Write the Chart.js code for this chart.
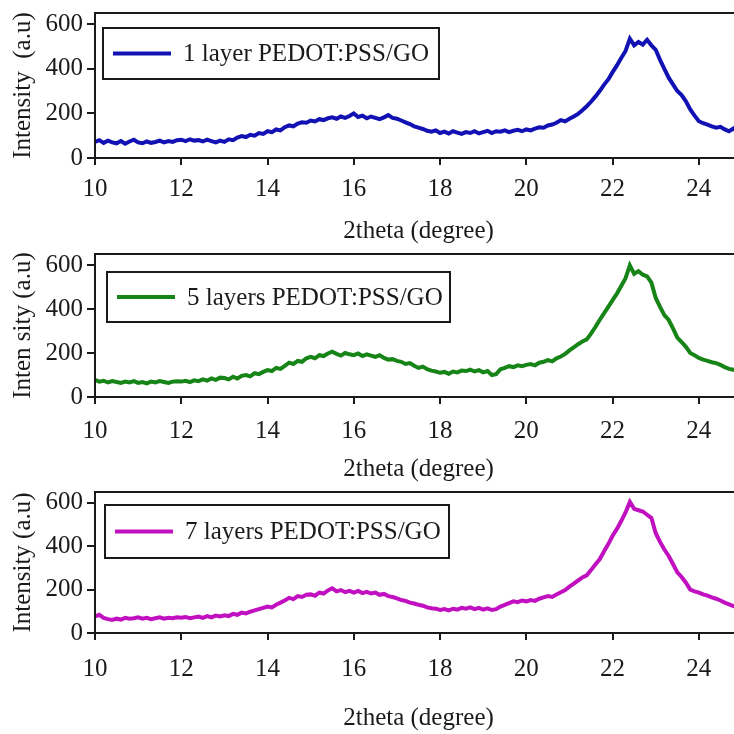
<!DOCTYPE html>
<html>
<head>
<meta charset="utf-8">
<script src="https://cdn.jsdelivr.net/npm/chart.js@4.4.1/dist/chart.umd.min.js"></script>
<style>
  html, body { margin: 0; padding: 0; background: #fff; overflow: hidden; }
  #wrap { position: relative; width: 734px; height: 734px; overflow: hidden; background: #fff; }
  #wrap canvas { position: absolute; left: 0; }
</style>
</head>
<body>
<div id="wrap">
  <canvas id="xrd-1" width="760" height="250" style="top:0px"></canvas>
  <canvas id="xrd-5" width="760" height="262" style="top:230px"></canvas>
  <canvas id="xrd-7" width="760" height="264" style="top:470px"></canvas>
</div>
<script>
// scan runs 10.0 -> 25.0 deg in 0.1 deg steps
const ANGLE_START = 10;
const ANGLE_STEP = 0.1;

const xTicks = [10, 12, 14, 16, 18, 20, 22, 24];
const yTicks = [0, 200, 400, 600];

const oneLayer = [
  72, 80, 68, 78, 70, 66, 76, 64, 74, 82,
  70, 66, 74, 68, 72, 78, 70, 76, 72, 80,
  82, 76, 84, 78, 80, 74, 82, 76, 70, 78,
  72, 84, 80, 92, 98, 94, 104, 100, 112, 108,
  120, 116, 128, 124, 138, 146, 142, 154, 160, 158,
  168, 164, 174, 170, 178, 182, 176, 186, 180, 188,
  200, 184, 190, 178, 186, 180, 174, 182, 192, 180,
  176, 168, 160, 152, 142, 136, 130, 122, 118, 124,
  112, 118, 110, 120, 114, 108, 116, 112, 120, 110,
  116, 122, 112, 120, 118, 124, 116, 122, 126, 120,
  128, 124, 132, 138, 136, 146, 150, 158, 170, 164,
  176, 186, 198, 214, 232, 252, 275, 300, 328, 352,
  385, 415, 448, 480, 535, 505, 520, 508, 530, 505,
  485, 440, 400, 360, 330, 300, 282, 254, 218, 190,
  165, 156, 150, 142, 136, 140, 128, 120, 132, 116,
  120
];

const fiveLayers = [
  78, 70, 74, 66, 72, 68, 64, 70, 66, 72,
  64, 68, 62, 70, 66, 72, 68, 64, 70, 72,
  70, 74, 68, 76, 72, 80, 74, 84, 78, 88,
  86, 80, 92, 84, 96, 100, 94, 108, 104, 114,
  122, 118, 132, 128, 142, 156, 150, 164, 160, 176,
  182, 176, 190, 186, 198, 206, 196, 188, 200, 194,
  190, 198, 186, 194, 188, 182, 190, 178, 170, 172,
  164, 160, 150, 154, 142, 132, 138, 126, 120, 116,
  110, 114, 106, 116, 112, 120, 118, 124, 116, 122,
  112, 118, 100, 104, 126, 132, 140, 136, 144, 140,
  146, 150, 144, 156, 160, 168, 162, 176, 184, 196,
  212, 226, 240, 252, 262, 288, 318, 350, 380, 410,
  440, 470, 505, 540, 598, 560, 572, 556, 548, 520,
  450, 410, 372, 350, 312, 270, 250, 228, 200, 190,
  178, 170, 164, 158, 154, 146, 136, 128, 124, 120,
  118
];

const sevenLayers = [
  76, 84, 70, 64, 60, 66, 62, 70, 66, 68,
  72, 66, 70, 64, 68, 72, 66, 70, 68, 72,
  70, 74, 68, 72, 76, 70, 78, 72, 80, 76,
  82, 78, 88, 84, 94, 90, 98, 104, 110, 116,
  122, 118, 130, 140, 150, 162, 156, 170, 166, 176,
  178, 172, 186, 182, 196, 206, 192, 198, 188, 194,
  186, 194, 184, 190, 182, 186, 176, 180, 170, 166,
  160, 152, 148, 140, 136, 130, 126, 118, 114, 112,
  106, 110, 104, 112, 108, 116, 112, 118, 110, 116,
  108, 114, 106, 110, 122, 130, 138, 146, 142, 150,
  146, 152, 148, 158, 164, 170, 166, 178, 188, 198,
  214, 228, 242, 256, 266, 290, 316, 340, 376, 410,
  448, 480, 516, 556, 604, 572, 566, 560, 545, 530,
  460, 420, 385, 355, 318, 280, 258, 232, 200, 192,
  186, 178, 172, 164, 158, 150, 140, 132, 124, 118,
  116
];

const angles = oneLayer.map((_, i) => +(ANGLE_START + i * ANGLE_STEP).toFixed(1));

const FONT = "'Liberation Serif', 'Times New Roman', serif";
const INK = "#1a1a1a";

// frame round the plot plus the boxed legend sitting inside it
const panelBox = {
  id: "panelBox",
  afterDatasetsDraw(chart, args, opts) {
    const { ctx, chartArea: a } = chart;
    const ds = chart.data.datasets[0];
    ctx.save();
    ctx.strokeStyle = INK;
    ctx.lineWidth = 2;
    ctx.strokeRect(a.left, a.top, a.right - a.left, a.bottom - a.top);

    const bx = a.left + opts.dx;
    const by = a.top + opts.dy;
    ctx.fillStyle = "#fff";
    ctx.fillRect(bx, by, opts.w, opts.h);
    ctx.strokeRect(bx, by, opts.w, opts.h);

    const midY = by + opts.h / 2;
    ctx.strokeStyle = ds.borderColor;
    ctx.lineWidth = 4;
    ctx.beginPath();
    ctx.moveTo(bx + 10, midY);
    ctx.lineTo(bx + 68, midY);
    ctx.stroke();

    ctx.fillStyle = INK;
    ctx.font = `25px ${FONT}`;
    ctx.textBaseline = "middle";
    ctx.fillText(ds.label, bx + 80, midY + 1);
    ctx.restore();
  }
};

function makeChart(canvasId, label, values, color, yTitle, geo) {
  return new Chart(document.getElementById(canvasId), {
    type: "line",
    data: {
      datasets: [{
        label: label,
        data: angles.map((x, i) => ({ x: x, y: values[i] })),
        borderColor: color,
        borderWidth: 4,
        pointRadius: 0,
        tension: 0,
        fill: false
      }]
    },
    options: {
      responsive: false,
      animation: false,
      devicePixelRatio: 1,
      layout: { padding: { top: geo.top, right: 18, left: 0, bottom: 0 } },
      plugins: {
        legend: { display: false },
        tooltip: { enabled: false },
        panelBox: geo.legend
      },
      scales: {
        x: {
          type: "linear",
          min: 10,
          max: 25,
          afterBuildTicks(scale) {
            scale.ticks = xTicks.map((v) => ({ value: v }));
          },
          afterFit(scale) {
            scale.height = geo.xHeight;
            scale.paddingLeft = 0;
            scale.paddingRight = 0;
          },
          border: { display: false },
          grid: { drawOnChartArea: false, drawTicks: true, tickLength: 7, color: INK, lineWidth: 2 },
          ticks: {
            color: INK,
            font: { family: FONT, size: 25 },
            padding: geo.tickPad,
            maxRotation: 0,
            autoSkip: false
          },
          title: {
            display: true,
            text: "2theta (degree)",
            color: INK,
            font: { family: FONT, size: 25 },
            padding: { top: 0, bottom: geo.titlePad }
          }
        },
        y: {
          min: 0,
          max: 650,
          afterBuildTicks(scale) {
            scale.ticks = yTicks.map((v) => ({ value: v }));
          },
          afterFit(scale) {
            scale.width = 95;
            scale.paddingTop = 0;
            scale.paddingBottom = 0;
          },
          border: { display: false },
          grid: { drawOnChartArea: false, drawTicks: true, tickLength: 8, color: INK, lineWidth: 2 },
          ticks: {
            color: INK,
            font: { family: FONT, size: 25 },
            padding: 4
          },
          title: {
            display: true,
            text: yTitle,
            color: INK,
            font: { family: FONT, size: 25 },
            padding: { top: 8, bottom: 0 }
          }
        }
      }
    },
    plugins: [panelBox]
  });
}

makeChart("xrd-1", "1 layer PEDOT:PSS/GO", oneLayer, "#1212b4", "Intensity  (a.u)", {
  top: 13, xHeight: 92, tickPad: 9, titlePad: 4,
  legend: { dx: 8, dy: 15, w: 336, h: 51 }
});
makeChart("xrd-5", "5 layers PEDOT:PSS/GO", fiveLayers, "#168416", "Inten sity (a.u)", {
  top: 24, xHeight: 95, tickPad: 12, titlePad: 8,
  legend: { dx: 12, dy: 18, w: 343, h: 50 }
});
makeChart("xrd-7", "7 layers PEDOT:PSS/GO", sevenLayers, "#c010c0", "Intensity (a.u)", {
  top: 22, xHeight: 101, tickPad: 14, titlePad: 1,
  legend: { dx: 10, dy: 13, w: 344, h: 53 }
});
</script>
</body>
</html>
